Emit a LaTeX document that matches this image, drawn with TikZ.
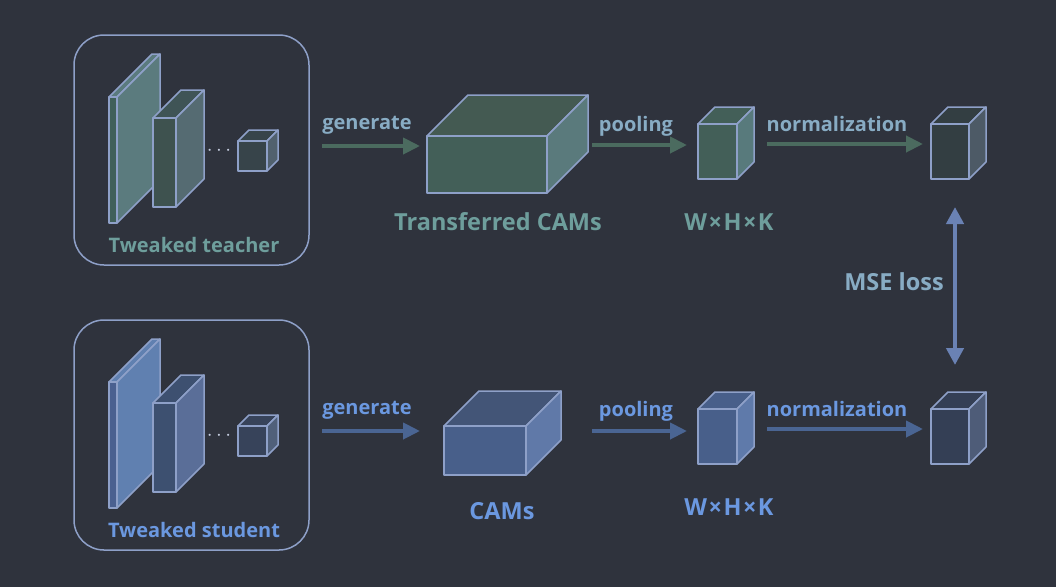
\documentclass[tikz,border=0pt]{standalone}
\usepackage{fontspec}
\setmainfont{Open Sans}
\usetikzlibrary{arrows.meta}
\definecolor{bg}{HTML}{2F333D}
\definecolor{edgec}{HTML}{8EA0C8}
\definecolor{tarrow}{HTML}{4B6B5F}
\definecolor{sarrow}{HTML}{4A6593}
\definecolor{msearrow}{HTML}{6A82B4}
\definecolor{tname}{HTML}{6E9E9C}
\definecolor{tlab}{HTML}{88ACC4}
\definecolor{slab}{HTML}{6B98E0}
\definecolor{dotc}{HTML}{C5CDE0}
% teacher fills
\definecolor{tA}{HTML}{40605A}
\definecolor{tAs}{HTML}{5B7B7E}
\definecolor{tB}{HTML}{3E524F}
\definecolor{tBs}{HTML}{556B72}
\definecolor{tBt}{HTML}{3F5456}
\definecolor{tC}{HTML}{37444A}
\definecolor{tCs}{HTML}{51616E}
\definecolor{tD}{HTML}{435F58}
\definecolor{tDt}{HTML}{445A52}
\definecolor{tDs}{HTML}{5A7A7C}
\definecolor{tE}{HTML}{435F58}
\definecolor{tEs}{HTML}{587A7C}
\definecolor{tF}{HTML}{333E42}
\definecolor{tFs}{HTML}{4D5A66}
% student fills
\definecolor{sA}{HTML}{4A6090}
\definecolor{sAs}{HTML}{6080B0}
\definecolor{sB}{HTML}{3D5070}
\definecolor{sBs}{HTML}{5A6E98}
\definecolor{sC}{HTML}{37435A}
\definecolor{sCs}{HTML}{50607A}
\definecolor{sD}{HTML}{485F8A}
\definecolor{sDt}{HTML}{435577}
\definecolor{sDs}{HTML}{6079A8}
\definecolor{sE}{HTML}{485F8A}
\definecolor{sEs}{HTML}{5F7AAA}
\definecolor{sF}{HTML}{343F55}
\definecolor{sFs}{HTML}{4E5C78}
\tikzset{
  edge/.style={draw=edgec, line width=1.5pt, line join=round},
  flowarrow/.style={line width=4pt, -{Triangle[length=17pt,width=16pt]}},
  msearr/.style={line width=4.5pt, {Triangle[length=17pt,width=17pt]}-{Triangle[length=17pt,width=17pt]}, draw=msearrow},
  panel/.style={draw=edgec, line width=1.5pt, rounded corners=30pt},
  lbl/.style={font=\bfseries\fontsize{20}{24}\selectfont, inner sep=0pt},
  bigname/.style={font=\bfseries\fontsize{23.5}{28}\selectfont, inner sep=0pt},
  pname/.style={font=\bfseries\fontsize{20}{24}\selectfont, inner sep=0pt},
  dotsty/.style={text=dotc, font=\fontsize{22}{24}\selectfont, inner sep=0pt},
}
\newcommand{\tms}{\hspace{1.5pt}×\hspace{1.5pt}}
% #1 x, #2 y (top-left of front), #3 w, #4 h, #5 depth, #6 front, #7 top, #8 side
\newcommand{\mycube}[8]{%
  \draw[edge, fill=#7] (#1,#2) -- ++(#5,-#5) -- ++(#3,0) -- ++(-#5,#5) -- cycle;
  \draw[edge, fill=#8] (#1+#3,#2) -- ++(#5,-#5) -- ++(0,#4) -- ++(-#5,#5) -- cycle;
  \draw[edge, fill=#6] (#1,#2) rectangle ++(#3,#4);
}
\begin{document}
\begin{tikzpicture}[x=1pt,y=-1pt]
\fill[bg] (0,0) rectangle (1056,587);
\useasboundingbox (0,0) rectangle (1056,587);

% ===== Teacher row =====
\draw[panel] (74,35) rectangle (309,265);
\mycube{109}{97}{8}{126}{43}{tA}{tAs}{tAs}
\mycube{153}{118}{23}{89}{28}{tB}{tBt}{tBs}
\node[dotsty] (tdots) at (219,151) {$\cdots$};
\mycube{238}{141}{29}{30}{11}{tC}{tC}{tCs}
\node[pname, text=tname] (tname) at (194,245) {Tweaked teacher};

\mycube{427}{136}{120}{57}{41}{tD}{tDt}{tDs}
\node[bigname, text=tname] (tcams) at (498,222) {Transferred CAMs};
\mycube{698}{124}{39}{55}{17}{tE}{tE}{tEs}
\node[bigname, text=tname] (twhk) at (729,222) {W\tms H\tms K};
\mycube{931}{124}{38}{55}{17}{tF}{tF}{tFs}

\coordinate (tg1) at (322,146); \coordinate (tg2) at (420,146);
\coordinate (tp1) at (592,145); \coordinate (tp2) at (687,145);
\coordinate (tn1) at (767,144); \coordinate (tn2) at (923,144);
\draw[flowarrow, draw=tarrow] (tg1) -- (tg2);
\draw[flowarrow, draw=tarrow] (tp1) -- (tp2);
\draw[flowarrow, draw=tarrow] (tn1) -- (tn2);
\node[lbl, text=tlab] (tgen) at (367,125) {generate};
\node[lbl, text=tlab] (tpool) at (636,126) {pooling};
\node[lbl, text=tlab] (tnorm) at (837,124) {normalization};

% ===== Student row =====
\draw[panel] (74,320) rectangle (309,550);
\mycube{109}{382}{8}{126}{43}{sA}{sAs}{sAs}
\mycube{153}{403}{23}{89}{28}{sB}{sB}{sBs}
\node[dotsty] (sdots) at (219,436) {$\cdots$};
\mycube{238}{426}{29}{30}{11}{sC}{sC}{sCs}
\node[pname, text=slab] (sname) at (194,530) {Tweaked student};

\mycube{444}{426}{82}{49}{35}{sD}{sDt}{sDs}
\node[bigname, text=slab] (scams) at (502,511) {CAMs};
\mycube{698}{409}{39}{55}{17}{sE}{sE}{sEs}
\node[bigname, text=slab] (swhk) at (729,507) {W\tms H\tms K};
\mycube{931}{409}{38}{55}{17}{sF}{sF}{sFs}

\coordinate (sg1) at (322,431); \coordinate (sg2) at (420,431);
\coordinate (sp1) at (592,431); \coordinate (sp2) at (687,431);
\coordinate (sn1) at (767,429); \coordinate (sn2) at (923,429);
\draw[flowarrow, draw=sarrow] (sg1) -- (sg2);
\draw[flowarrow, draw=sarrow] (sp1) -- (sp2);
\draw[flowarrow, draw=sarrow] (sn1) -- (sn2);
\node[lbl, text=slab] (sgen) at (367,410) {generate};
\node[lbl, text=slab] (spool) at (636,411) {pooling};
\node[lbl, text=slab] (snorm) at (837,409) {normalization};

% ===== MSE =====
\coordinate (m1) at (955,207); \coordinate (m2) at (955,365);
\draw[msearr] (m1) -- (m2);
\node[bigname, text=tlab] (mse) at (894,282) {MSE loss};
\end{tikzpicture}
\end{document}
